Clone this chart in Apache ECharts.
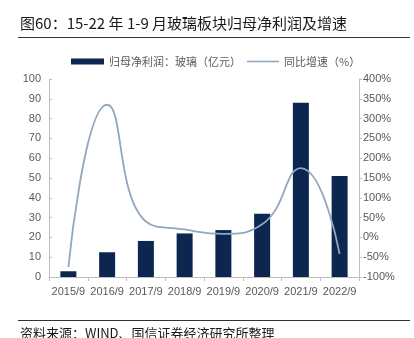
<!DOCTYPE html>
<html>
<head>
<meta charset="utf-8">
<script src="https://cdn.jsdelivr.net/npm/echarts@6/dist/echarts.min.js"></script>
<style>
html,body{margin:0;padding:0;background:#fff;}
#c{width:414px;height:338px;}
</style>
</head>
<body>
<div id="c"></div>
<script>
const categories = ['2015/9','2016/9','2017/9','2018/9','2019/9','2020/9','2021/9','2022/9'];
const profit = [2.9, 12.5, 18.2, 22.0, 23.7, 32.0, 88.0, 51.0];
const growth = [-75, 335, 40, 20, 9, 33, 175, -42];
const leftTicks = {min: 0, max: 100, interval: 10};
const rightTicks = {min: -100, max: 400, interval: 50};
const titleText = '图60：15-22 年 1-9 月玻璃板块归母净利润及增速';
const sourceText = '资料来源：WIND、国信证券经济研究所整理';
const seriesNames = ['归母净利润：玻璃（亿元）', '同比增速（%）'];

const chart = echarts.init(document.getElementById('c'), null, {renderer: 'canvas'});
const axisColor = '#bfbfbf';
const labelColor = '#595959';
const lineColor = '#92a6bf';
const font = '"Liberation Sans", Arial, "Noto Sans CJK SC", sans-serif';
const legendText = {fontSize: 11, color: labelColor, fontFamily: '"Noto Sans CJK SC", sans-serif'};
chart.setOption({
  animation: false,
  backgroundColor: '#ffffff',
  textStyle: {fontFamily: font},
  graphic: [
    {type: 'text', left: 20, top: 16, style: {text: titleText, fontSize: 15, fill: '#1a1a1a', fontFamily: '"Noto Sans CJK SC", sans-serif'}},
    {type: 'line', shape: {x1: 18, y1: 37.5, x2: 410, y2: 37.5}, style: {stroke: '#333', lineWidth: 1}},
    {type: 'line', shape: {x1: 18, y1: 320.5, x2: 410, y2: 320.5}, style: {stroke: '#333', lineWidth: 1}},
    {type: 'text', left: 20, top: 327, style: {text: sourceText, fontSize: 13, fill: '#1a1a1a', fontFamily: '"Noto Sans CJK SC", sans-serif'}}
  ],
  legend: [
    {
      top: 51, left: 66, itemWidth: 33, itemHeight: 6,
      textStyle: legendText,
      data: [{name: seriesNames[0], icon: 'rect'}]
    },
    {
      top: 51, left: 242, itemWidth: 32, itemHeight: 1.6,
      textStyle: legendText,
      data: [{name: seriesNames[1], icon: 'rect', itemStyle: {color: lineColor}}]
    }
  ],
  grid: {left: 49, right: 55, top: 79, height: 198, containLabel: false},
  xAxis: {
    type: 'category',
    data: categories,
    boundaryGap: true,
    axisLine: {lineStyle: {color: axisColor}},
    axisTick: {show: true, interval: 0, length: 4, lineStyle: {color: axisColor}},
    axisLabel: {color: labelColor, fontSize: 11, margin: 9, interval: 0}
  },
  yAxis: [
    {
      type: 'value', min: leftTicks.min, max: leftTicks.max, interval: leftTicks.interval,
      axisLine: {show: true, lineStyle: {color: axisColor}},
      axisTick: {show: true, inside: true, length: 3, lineStyle: {color: axisColor}},
      axisLabel: {color: labelColor, fontSize: 11, margin: 8},
      splitLine: {show: false}
    },
    {
      type: 'value', min: rightTicks.min, max: rightTicks.max, interval: rightTicks.interval,
      position: 'right',
      axisLine: {show: true, lineStyle: {color: axisColor}},
      axisTick: {show: true, length: 3, lineStyle: {color: axisColor}},
      axisLabel: {color: labelColor, fontSize: 11, margin: 4, formatter: '{value}%'},
      splitLine: {show: false}
    }
  ],
  series: [
    {
      name: seriesNames[0], type: 'bar', data: profit, barWidth: 16,
      itemStyle: {color: '#0c2650'}
    },
    {
      name: seriesNames[1], type: 'line', yAxisIndex: 1, data: growth,
      smooth: 0.5, symbol: 'none',
      lineStyle: {color: lineColor, width: 1.8},
      itemStyle: {color: lineColor}
    }
  ]
});
</script>
</body>
</html>
